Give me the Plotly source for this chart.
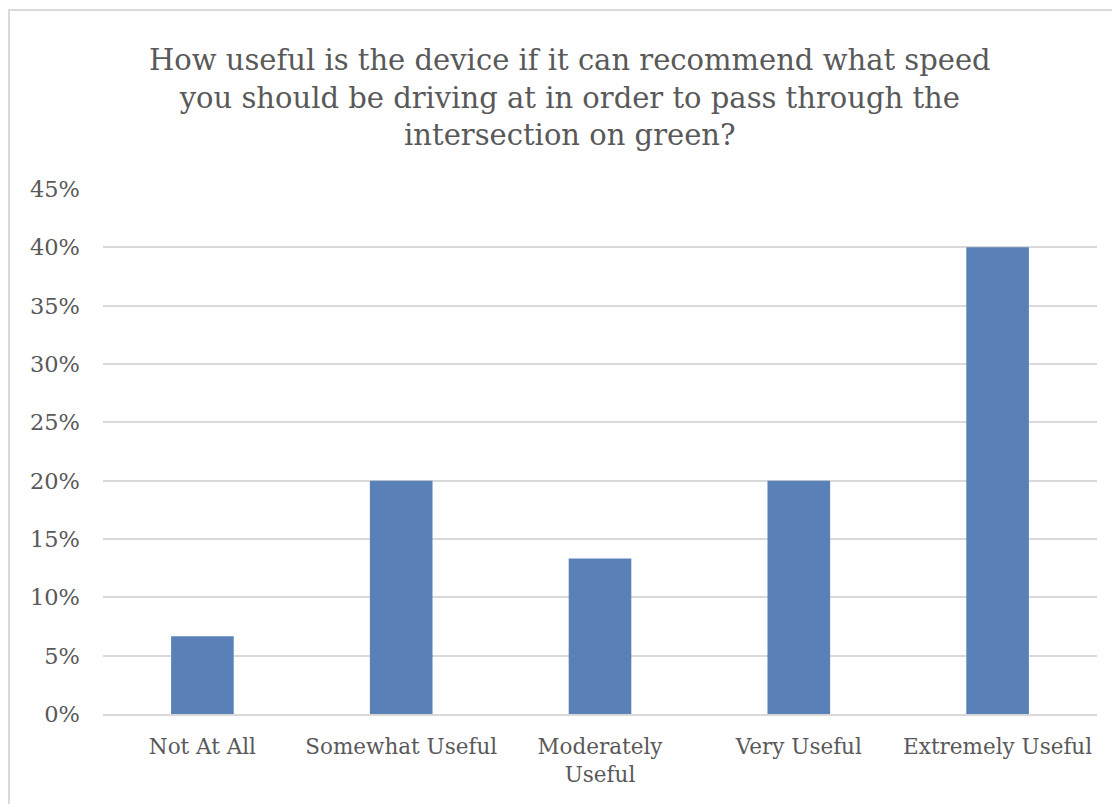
import plotly.graph_objects as go

# survey answers
categories = ["Not At All", "Somewhat Useful", "Moderately<br>Useful", "Very Useful", "Extremely Useful"]
shares = [0.0667, 0.20, 0.1333, 0.20, 0.40]
tick_vals = [0, 0.05, 0.10, 0.15, 0.20, 0.25, 0.30, 0.35, 0.40, 0.45]

title_text = ("How useful is the device if it can recommend what speed<br>"
              "you should be driving at in order to pass through the<br>"
              "intersection on green?")

fig = go.Figure(go.Bar(
    x=categories,
    y=shares,
    width=0.315,
    marker=dict(color="#5a80b8", line=dict(width=0)),
))

# page has an 8px body margin, so the figure is a bit smaller than the window
fig.update_layout(
    width=1112,
    height=796,
    margin=dict(l=95, r=23, t=181, b=90),
    paper_bgcolor="white",
    plot_bgcolor="white",
    font=dict(family="DejaVu Serif", color="#595959", size=21.5),
    showlegend=False,
)

fig.add_annotation(
    text=title_text, xref="paper", yref="paper",
    x=0.4698, y=1.175, xanchor="center", yanchor="middle",
    showarrow=False, align="center",
    font=dict(size=29, color="#595959"),
)

fig.update_yaxes(
    range=[0, 0.45],
    tickvals=tick_vals,
    tickformat=".0%",
    showgrid=True,
    gridcolor="#d9d9d9",
    gridwidth=1.5,
    zeroline=False,
    showline=False,
    ticks="",
    ticklabelstandoff=22,
    tickfont=dict(size=22.5),
)
fig.update_xaxes(
    showline=True,
    linecolor="#d9d9d9",
    linewidth=1.5,
    ticks="",
    tickangle=0,
    ticklabelstandoff=12,
)

# chart frame
fig.add_shape(type="rect", xref="paper", yref="paper",
              x0=-0.0946, x1=1.03, y0=-0.2, y1=1.341,
              line=dict(color="#d9d9d9", width=2), fillcolor="rgba(0,0,0,0)", layer="below")

fig.write_html("out.html")
